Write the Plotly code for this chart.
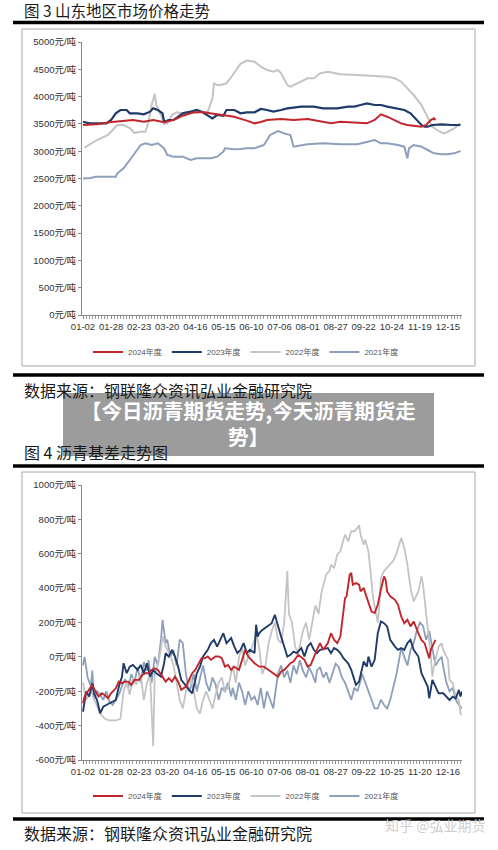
import plotly.graph_objects as go

W, H = 498, 850

# ---------------- tick labels ----------------
fig3_xlabels = ["01-02", "01-28", "02-23", "03-20", "04-16", "05-15", "06-10",
                "07-06", "08-01", "08-27", "09-22", "10-24", "11-19", "12-15"]
fig4_xlabels = ["01-02", "01-28", "02-23", "03-20", "04-16", "05-15", "06-10",
                "07-06", "08-01", "08-27", "09-22", "10-25", "11-20", "12-16"]
label_days = [i * 18 for i in range(14)]          # trading-day index of each label
price_yticks = list(range(0, 5001, 500))
basis_yticks = list(range(-600, 1001, 200))

# ---------------- Fig 3: Shandong market price (元/吨), x = trading-day index ----------------
p2024_day = [0, 9, 17, 24, 32, 39, 45, 52, 58, 64, 71, 77, 82, 88, 97, 105, 110, 114, 118, 127,
             135, 144, 152, 159, 165, 172, 178, 182, 187, 191, 195, 200, 204, 208, 212, 217, 220,
             223, 225, 226]
p2024_val = [3480, 3492, 3529, 3553, 3571, 3540, 3571, 3529, 3571, 3650, 3712, 3712, 3694, 3663,
             3632, 3560, 3510, 3535, 3571, 3590, 3571, 3590, 3540, 3510, 3540, 3529, 3510, 3510,
             3571, 3675, 3632, 3571, 3510, 3480, 3468, 3449, 3480, 3571, 3602, 3571]

p2023_day = [0, 4, 15, 18, 21, 24, 28, 30, 35, 39, 43, 45, 48, 51, 52, 55, 58, 61, 64, 69, 73, 76,
             80, 83, 86, 90, 92, 97, 101, 105, 110, 114, 118, 122, 127, 131, 140, 148, 154, 163, 170,
             174, 178, 182, 187, 191, 195, 200, 206, 210, 213, 217, 219, 221, 224, 230, 236, 242]
p2023_val = [3540, 3510, 3510, 3571, 3694, 3755, 3755, 3694, 3694, 3675, 3724, 3785, 3755, 3694,
             3540, 3571, 3571, 3632, 3694, 3724, 3755, 3724, 3663, 3602, 3663, 3650, 3755, 3755,
             3694, 3712, 3712, 3773, 3755, 3724, 3755, 3785, 3816, 3816, 3785, 3785, 3816, 3816,
             3846, 3877, 3846, 3846, 3816, 3785, 3755, 3694, 3602, 3480, 3449, 3449, 3480, 3492,
             3480, 3480]

p2022_day = [1, 9, 16, 22, 26, 30, 33, 37, 40, 42, 44, 46, 47, 50, 52, 54, 57, 60, 64, 67, 71, 75,
             80, 83, 84, 86, 88, 92, 96, 101, 105, 110, 114, 118, 122, 125, 127, 131, 133, 137, 142,
             144, 148, 152, 157, 161, 165, 176, 187, 195, 200, 204, 208, 212, 217, 220, 222, 224,
             227, 231, 234, 238, 242]
p2022_val = [3064, 3205, 3297, 3480, 3480, 3425, 3333, 3357, 3357, 3540, 3846, 4048, 3846, 3663,
             3498, 3510, 3663, 3712, 3694, 3724, 3700, 3718, 3724, 3968, 4243, 4212, 4212, 4243,
             4396, 4600, 4660, 4640, 4548, 4487, 4456, 4487, 4426, 4212, 4182, 4243, 4304, 4335,
             4335, 4426, 4456, 4426, 4408, 4396, 4377, 4365, 4335, 4273, 4151, 4029, 3846, 3663,
             3540, 3449, 3388, 3327, 3357, 3418, 3510]

p2021_day = [0, 5, 8, 21, 22, 26, 30, 33, 37, 40, 44, 48, 52, 54, 58, 64, 69, 73, 77, 82, 86, 90,
             91, 97, 101, 105, 110, 116, 120, 125, 129, 133, 135, 144, 154, 165, 176, 182, 187, 191,
             195, 202, 206, 208, 209, 212, 217, 221, 225, 230, 234, 238, 242]
p2021_val = [2500, 2510, 2530, 2530, 2595, 2686, 2839, 2961, 3113, 3144, 3113, 3144, 3053, 2930,
             2900, 2900, 2839, 2870, 2870, 2870, 2900, 2991, 3053, 3034, 3040, 3053, 3053, 3113,
             3297, 3370, 3327, 3297, 3083, 3126, 3144, 3126, 3126, 3174, 3205, 3144, 3144, 3113,
             3083, 2870, 3053, 3113, 3083, 3022, 2961, 2943, 2943, 2961, 3004]

# ---------------- Fig 4: asphalt basis (元/吨) ----------------
b2024_day = [0, 1, 3, 6, 8, 10, 12, 14, 16, 18, 21, 23, 25, 27, 29, 31, 33, 36, 38, 40, 42, 44, 46,
             48, 51, 53, 55, 57, 59, 61, 63, 66, 68, 70, 72, 74, 76, 78, 80, 82, 85, 87, 89, 91, 93,
             95, 97, 100, 102, 104, 106, 108, 110, 113, 116, 119, 122, 125, 127, 129, 131, 133, 135,
             138, 142, 144, 146, 148, 150, 152, 154, 157, 159, 161, 163, 165, 167, 168, 169, 171,
             172, 173, 175, 177, 178, 180, 181, 183, 185, 187, 189, 191, 193, 194, 195, 197, 200,
             202, 203, 204, 206, 208, 210, 212, 215, 217, 219, 221, 222, 223, 225, 226]
b2024_val = [-270, -231, -202, -163, -202, -231, -212, -222, -241, -212, -183, -144, -153, -144,
             -144, -163, -134, -134, -105, -95, -95, -76, -66, -76, -115, -144, -124, -144, -115,
             -144, -192, -173, -134, -95, -76, -37, -8, -8, 2, -17, 2, 2, -8, -57, -47, -76, -57,
             -76, -17, 41, 2, -17, -37, -57, -57, -76, -95, -115, -86, -76, -57, -37, -27, 12, -17,
             -57, -47, 2, 41, 80, 41, 80, 138, 99, 80, 118, 293, 342, 352, 478, 488, 420, 430, 420,
             381, 401, 371, 323, 264, 255, 303, 391, 468, 449, 381, 352, 332, 303, 264, 235, 196,
             216, 177, 206, 138, 99, 80, 22, -8, 41, 80, 99]

b2023_day = [0, 1, 2, 4, 6, 7, 9, 11, 13, 17, 21, 23, 25, 26, 28, 30, 32, 35, 37, 39, 41, 43, 45,
             47, 50, 52, 53, 55, 57, 59, 61, 63, 66, 68, 70, 71, 73, 75, 77, 80, 82, 84, 86, 88, 90,
             92, 95, 97, 99, 101, 103, 105, 107, 110, 111, 112, 113, 115, 118, 121, 123, 125, 127,
             129, 131, 133, 135, 137, 140, 142, 144, 146, 148, 150, 152, 157, 159, 161, 163, 165,
             167, 170, 172, 175, 177, 180, 182, 183, 185, 187, 189, 191, 193, 195, 197, 200, 202,
             204, 206, 208, 210, 212, 215, 217, 219, 221, 222, 224, 226, 228, 231, 233, 235, 237,
             239, 241, 242, 243]
b2023_val = [-319, -251, -202, -231, -153, -212, -251, -328, -290, -270, -251, -173, -115, -37,
             -95, -57, -47, -76, -47, -95, -37, -115, -76, -95, -115, -37, 22, 2, 41, 2, -57, -134,
             -173, -192, -212, -173, -95, -57, 2, 41, 80, 99, 60, 99, 138, 80, 109, 60, 22, 41, 80,
             22, 41, 22, 187, 118, 138, 157, 177, 196, 245, 177, 118, 60, 2, 12, 31, 22, 51, 2, 60,
             80, 41, 22, 41, 51, 22, 51, 41, 22, -8, -37, -76, -163, -144, -27, -57, 2, -57, -17,
             138, 206, 196, 177, 99, 60, 41, 51, 41, 80, 99, 41, 2, -95, -134, -173, -241, -134,
             -173, -212, -212, -231, -251, -231, -241, -192, -231, -202]

b2022_day = [0, 2, 5, 8, 11, 14, 17, 21, 24, 26, 28, 30, 32, 34, 37, 39, 41, 43, 45, 46, 48, 50,
             51, 53, 56, 58, 60, 62, 64, 66, 68, 69, 71, 73, 75, 77, 79, 81, 83, 85, 87, 89, 91, 93,
             95, 96, 98, 100, 102, 104, 106, 108, 110, 111, 113, 115, 117, 119, 121, 123, 125, 127,
             129, 131, 132, 134, 136, 138, 140, 141, 143, 145, 147, 149, 151, 153, 156, 158, 159,
             161, 163, 165, 167, 168, 170, 172, 174, 176, 177, 178, 180, 181, 183, 184, 185, 186,
             188, 189, 190, 191, 193, 195, 197, 199, 201, 204, 206, 208, 210, 212, 215, 217, 218,
             219, 220, 221, 223, 224, 225, 228, 230, 231, 234, 235, 237, 239, 241, 242, 243]
b2022_val = [-150, -250, -200, -260, -330, -360, -370, -370, -360, -200, -150, -220, -120, -160,
             -100, -250, -150, -100, -520, -100, -50, 50, 120, 60, 10, -50, -160, -250, -300, -200,
             -150, -120, -200, -300, -330, -250, -200, -250, -300, -220, -150, -120, -200, -180,
             -100, -50, -150, 0, 50, -50, 0, 50, 100, 150, 50, -100, -50, 80, 150, 200, 100, 80,
             200, 500, 250, 200, 60, 20, 100, 150, 200, 100, 200, 300, 250, 380, 480, 500, 536,
             517, 595, 614, 682, 711, 672, 731, 731, 750, 766, 711, 653, 682, 614, 536, 439, 342,
             250, 200, 300, 459, 500, 520, 540, 560, 600, 692, 634, 536, 401, 323, 381, 468, 420,
             342, 264, 150, 0, -115, -57, 60, 80, 41, -17, -134, -153, -231, -251, -328, -338]

b2021_day = [0, 1, 3, 5, 6, 7, 9, 11, 13, 15, 17, 19, 21, 23, 25, 27, 29, 31, 33, 35, 37, 39, 41,
             42, 44, 46, 48, 50, 51, 53, 54, 56, 58, 60, 62, 64, 66, 68, 69, 71, 73, 75, 77, 79, 81,
             83, 85, 87, 89, 91, 93, 95, 96, 98, 100, 102, 104, 106, 108, 110, 112, 114, 116, 118,
             120, 122, 123, 125, 127, 129, 131, 133, 135, 137, 139, 141, 143, 145, 147, 149, 150,
             152, 154, 156, 158, 160, 162, 164, 166, 168, 170, 172, 174, 176, 177, 179, 181, 183,
             185, 187, 189, 191, 193, 195, 197, 199, 201, 203, 204, 206, 208, 210, 212, 214, 216,
             218, 220, 222, 224, 226, 228, 230, 231, 233, 235, 237, 239, 241, 243]
b2021_val = [-50, 0, -120, -170, -80, -250, -200, -220, -250, -200, -260, -280, -250, -220, -170,
             -130, -180, -100, -150, -60, -150, -30, -80, -20, -150, 0, -50, 100, 216, 80, 100, 0,
             40, -50, 100, 80, -100, -200, -180, -100, -200, -120, -50, -150, -200, -120, -160,
             -250, -180, -200, -150, -230, -180, -250, -150, -200, -280, -200, -250, -230, -280,
             -180, -300, -200, -250, -300, -230, -100, -50, -120, -80, -150, -50, -100, -20, -80,
             -120, -60, -100, -150, -80, -60, -120, -90, -150, -100, -40, -60, -120, -150, -200,
             -250, -180, -200, -170, -100, -150, -200, -250, -300, -300, -250, -280, -300, -250,
             -180, -100, 0, 50, 0, -50, 40, 80, 150, 200, 180, 100, 150, 50, -50, -20, 0, -60,
             -150, -200, -180, -250, -280, -300]

# ---------------- styling ----------------
C24, C23, C22, C21 = "#c0272d", "#1f3b6a", "#c4c4c4", "#8d9fba"
CJK = "Noto Sans CJK SC"
TICKF = "Liberation Sans, Noto Sans CJK SC"


def px(x):
    return x / W


def py(y):
    return 1 - y / H


fig = go.Figure()

series1 = [("2021年度", p2021_day, p2021_val, C21, 2.0),
           ("2022年度", p2022_day, p2022_val, C22, 2.0),
           ("2023年度", p2023_day, p2023_val, C23, 2.2),
           ("2024年度", p2024_day, p2024_val, C24, 2.0)]
for name, d, v, c, w in series1:
    fig.add_trace(go.Scatter(x=d, y=v, mode="lines", name=name, line=dict(color=c, width=w),
                             xaxis="x", yaxis="y", legend="legend", hoverinfo="skip"))

series2 = [("2021年度", b2021_day, b2021_val, C21, 1.8),
           ("2022年度", b2022_day, b2022_val, C22, 1.8),
           ("2023年度", b2023_day, b2023_val, C23, 1.9),
           ("2024年度", b2024_day, b2024_val, C24, 1.9)]
for name, d, v, c, w in series2:
    fig.add_trace(go.Scatter(x=d, y=v, mode="lines", name=name, line=dict(color=c, width=w),
                             xaxis="x2", yaxis="y2", legend="legend2", hoverinfo="skip"))

xdom = [px(82), px(462)]
xrange_ = [-0.64, 243.0]


def xaxis_cfg(labels, anchor):
    return dict(domain=xdom, range=xrange_, anchor=anchor, tickmode="array",
                tickvals=label_days, ticktext=labels, ticks="outside", ticklen=3,
                tickcolor="#8a8a8a", showline=True, linecolor="#8a8a8a", linewidth=1,
                showgrid=False, zeroline=False, automargin=False,
                tickfont=dict(family=TICKF, size=9.5, color="#333333"),
                minor=dict(tickmode="linear", tick0=0, dtick=2, ticks="outside", ticklen=3,
                           tickcolor="#9a9a9a", showgrid=False))


def yaxis_cfg(dom, rng, vals, anchor):
    return dict(domain=dom, range=rng, anchor=anchor, tickmode="array", tickvals=vals,
                ticktext=[f"{v}元/吨" for v in vals], ticks="outside", ticklen=3,
                tickcolor="#8a8a8a", showline=True, linecolor="#8a8a8a", linewidth=1,
                showgrid=False, zeroline=False, automargin=False,
                tickfont=dict(family=TICKF, size=9.5, color="#333333"))


shapes = []
for yy in (22.5, 375, 466, 819):
    shapes.append(dict(type="line", xref="paper", yref="paper", x0=px(13), x1=px(484),
                       y0=py(yy), y1=py(yy), line=dict(color="#000000", width=3.5)))
for (y0, y1) in ((29, 366), (472, 813)):
    shapes.append(dict(type="rect", xref="paper", yref="paper", x0=px(22), x1=px(475),
                       y0=py(y1), y1=py(y0), line=dict(color="#a8a8a8", width=1),
                       layer="below"))
shapes.append(dict(type="rect", xref="paper", yref="paper", x0=px(63), x1=px(434),
                   y0=py(456), y1=py(393), fillcolor="rgba(118,118,118,0.72)",
                   line=dict(width=0), layer="above"))

annotations = [
    dict(text="图 3 山东地区市场价格走势", x=px(23), y=py(10), size=15.5),
    dict(text="数据来源：钢联隆众资讯弘业金融研究院", x=px(23), y=py(390), size=16),
    dict(text="图 4 沥青基差走势图", x=px(23), y=py(452), size=16),
    dict(text="数据来源：钢联隆众资讯弘业金融研究院", x=px(23), y=py(833), size=16),
]
for a in annotations:
    s = a.pop("size")
    a.update(xref="paper", yref="paper", xanchor="left", yanchor="middle", showarrow=False,
             borderpad=0, font=dict(family=CJK, size=s, color="#1a1a1a"))
for txt, yy in (("<b>【今日沥青期货走势,今天沥青期货走</b>", 410), ("<b>势】</b>", 436)):
    annotations.append(dict(text=txt, x=px(248.5), y=py(yy), xref="paper", yref="paper",
                            xanchor="center", yanchor="middle", showarrow=False,
                            borderpad=0, font=dict(family=CJK, size=20.5, color="#ffffff")))
annotations.append(dict(text="知乎 @弘业期货", x=px(486), y=py(825), xref="paper",
                        yref="paper", xanchor="right", yanchor="middle", showarrow=False,
                        borderpad=0,
                        font=dict(family=CJK, size=14, color="rgba(200,200,200,0.9)")))

legend_common = dict(orientation="h", xanchor="center", yanchor="middle",
                     font=dict(family=TICKF, size=8, color="#555555"),
                     bgcolor="rgba(0,0,0,0)", traceorder="reversed", itemwidth=30,
                     itemclick=False, itemdoubleclick=False)

fig.update_layout(
    width=W, height=H, autosize=False,
    margin=dict(l=0, r=0, t=0, b=0, pad=0, autoexpand=False),
    paper_bgcolor="#ffffff", plot_bgcolor="#ffffff",
    showlegend=True,
    xaxis=xaxis_cfg(fig3_xlabels, "y"),
    yaxis=yaxis_cfg([py(315), py(42)], [0, 5000], price_yticks, "x"),
    xaxis2=xaxis_cfg(fig4_xlabels, "y2"),
    yaxis2=yaxis_cfg([py(760), py(485)], [-600, 1000], basis_yticks, "x2"),
    legend=dict(x=px(246), y=py(352), **legend_common),
    legend2=dict(x=px(246), y=py(796), **legend_common),
    shapes=shapes,
    annotations=annotations,
)

fig.write_html(
    "out.html",
    config={"displayModeBar": False, "staticPlot": True},
    post_script="document.body.style.margin='0';document.body.style.overflow='hidden';",
)
